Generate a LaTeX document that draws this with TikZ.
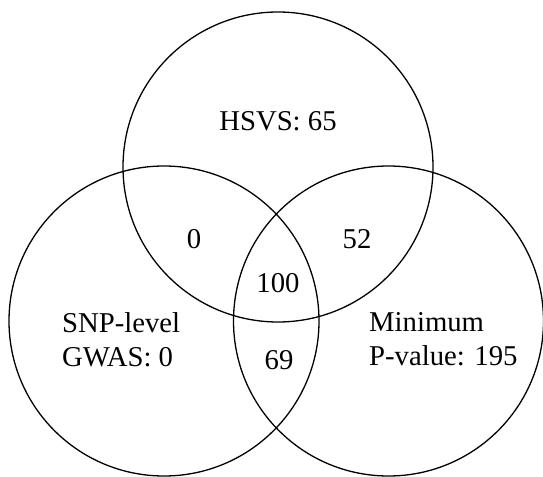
\documentclass[tikz,border=0pt]{standalone}
\usepackage{fontspec}
\setmainfont{Liberation Serif}
\begin{document}
\begin{tikzpicture}[x=1bp,y=-1bp,
  venn/.style={draw=black,line width=1.3bp,circle,minimum size=310bp,inner sep=0pt},
  lbl/.style={inner sep=0pt,font=\fontsize{28.7bp}{34bp}\selectfont,text=black}]
\useasboundingbox (0,0) rectangle (543,477);
\node[venn] (top) at (278,167) {};
\node[venn] (left) at (164,321) {};
\node[venn] (right) at (388.5,321) {};
\node[lbl,anchor=base] (hsvs) at (278,131) {HSVS: 65};
\node[lbl,anchor=base] (tl) at (194,248) {0};
\node[lbl,anchor=base] (tr) at (357,248) {52};
\node[lbl,anchor=base] (mid) at (278,292) {100};
\node[lbl,anchor=base] (lr) at (279,369) {69};
\node[lbl,anchor=base west] (snp1) at (62,332) {SNP-level};
\node[lbl,anchor=base west] (snp2) at (62,366) {GWAS: 0};
\node[lbl,anchor=base west] (min1) at (369,331) {Minimum};
\node[lbl,anchor=base west] (min2) at (369,365) {P-value: 195};
\end{tikzpicture}
\end{document}
